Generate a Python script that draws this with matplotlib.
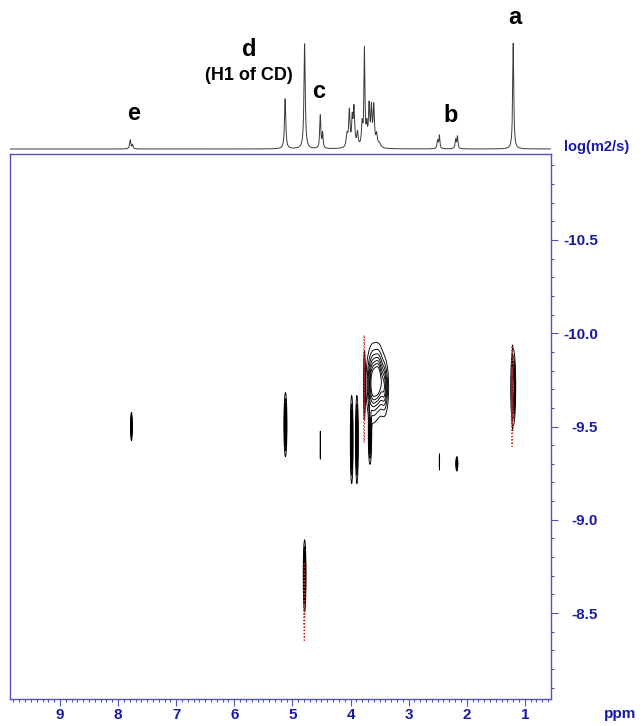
"""
DOSY map of the CD complex with the 1H trace on top.
"""
import matplotlib
matplotlib.use("Agg")
import matplotlib.pyplot as plt
import numpy as np
from matplotlib.ticker import FormatStrFormatter, MultipleLocator

plt.rcParams["font.family"] = ["Liberation Sans", "DejaVu Sans"]
plt.rcParams["font.weight"] = "bold"

BLUE = "#1a1aa8"
FRAME = "#5353bb"

# 1H projection: line positions (ppm), heights (rel.), half widths (ppm)
spec_ppm = [7.79, 7.75, 5.125, 4.79, 4.52, 4.48, 4.06, 4.02, 3.97, 3.94, 3.88,
            3.80, 3.76, 3.72, 3.68, 3.64, 3.60, 3.55, 3.50, 2.50, 2.47, 2.19, 2.16, 1.20]
spec_height = [9, 4, 50, 105, 33, 15, 12, 36, 26, 38, 14,
               22, 96, 18, 40, 36, 40, 12, 4, 8, 13, 9, 12, 106]
spec_hw = [0.012, 0.01, 0.013, 0.013, 0.011, 0.01, 0.016, 0.014, 0.012, 0.014, 0.014,
           0.014, 0.01, 0.012, 0.014, 0.012, 0.014, 0.016, 0.025, 0.012, 0.01, 0.012, 0.01, 0.011]

# positive cross peaks: ppm, log D, half widths, amplitude
pos_ppm = [7.77, 5.12, 4.52, 3.98, 3.89, 3.62, 3.52, 3.42, 3.665, 2.47, 2.17, 1.20, 1.21, 4.79, 3.76]
pos_logd = [-9.50, -9.51, -9.40, -9.43, -9.43, -9.73, -9.75, -9.71, -9.45, -9.31, -9.30, -9.71, -9.70, -8.70, -9.72]
pos_wppm = [0.007, 0.012, 0.003, 0.011, 0.011, 0.055, 0.05, 0.04, 0.014, 0.003, 0.008, 0.02, 0.003, 0.011, 0.007]
pos_wlogd = [0.035, 0.08, 0.085, 0.11, 0.11, 0.1, 0.09, 0.08, 0.075, 0.05, 0.018, 0.095, 0.16, 0.09, 0.09]
pos_amp = [1.0, 1.0, 0.15, 1.0, 1.0, 0.9, 0.9, 0.6, 0.8, 0.15, 1.0, 1.0, 0.15, 1.0, 0.8]

# negative (red dotted) contours
neg_ppm = [3.765, 1.22, 4.795]
neg_logd = [-9.70, -9.66, -8.56]
neg_wppm = [0.004, 0.006, 0.004]
neg_wlogd = [0.14, 0.13, 0.10]

labels = ["a", "b", "c", "d", "(H1 of CD)", "e"]
label_ppm = [1.17, 2.27, 4.55, 5.75, 5.75, 7.73]
label_int = [131, 34, 57, 99, 74, 36]
label_size = [17, 17, 17, 17, 13, 17]


def gauss_field(X, Y, ppm, logd, wppm, wlogd, amp):
    Z = np.zeros_like(X)
    for p, d, wp, wd, a in zip(ppm, logd, wppm, wlogd, amp):
        Z += a * np.exp(-0.5 * ((X - p) / wp) ** 2 - 0.5 * ((Y - d) / wd) ** 2)
    return Z


def main() -> None:
    fig = plt.figure(figsize=(6.43, 7.26), dpi=100)
    ax = fig.add_axes([10 / 643, 27 / 726, 541 / 643, 545 / 726])
    top = fig.add_axes([10 / 643, 1 - 152 / 726, 541 / 643, 142 / 726])

    xlim = (9.86, 0.55)

    # 1H trace
    xs = np.linspace(0.4, 10.0, 8000)
    trace = np.zeros_like(xs)
    for p, h, w in zip(spec_ppm, spec_height, spec_hw):
        trace += h / (1 + ((xs - p) / w) ** 2)
    top.plot(xs, trace, color="#3a3a3a", lw=0.7)
    top.set_xlim(*xlim)
    top.set_ylim(-3, 139)
    top.axis("off")
    for lab, p, y, s in zip(labels, label_ppm, label_int, label_size):
        top.text(p, y, lab, ha="center", va="center", fontsize=s,
                 fontweight="bold", color="black", clip_on=False)

    # DOSY contours
    gx = np.linspace(0.4, 10.0, 4000)
    gy = np.linspace(-11.2, -7.8, 800)
    X, Y = np.meshgrid(gx, gy)
    zpos = gauss_field(X, Y, pos_ppm, pos_logd, pos_wppm, pos_wlogd, pos_amp)
    zneg = gauss_field(X, Y, neg_ppm, neg_logd, neg_wppm, neg_wlogd, [1.0] * len(neg_ppm))
    ax.contour(X, Y, zpos, levels=[0.1, 0.22, 0.34, 0.46, 0.58, 0.7, 0.82],
               colors="black", linewidths=0.65)
    ax.contour(X, Y, zneg, levels=[0.12, 0.5], colors="#c82828",
               linewidths=0.9, linestyles=":")

    ax.set_xlim(*xlim)
    ax.set_ylim(-8.04, -10.96)

    ax.xaxis.set_major_locator(MultipleLocator(1))
    ax.xaxis.set_minor_locator(MultipleLocator(0.1))
    ax.yaxis.set_major_locator(MultipleLocator(0.5))
    ax.yaxis.set_minor_locator(MultipleLocator(0.1))
    ax.yaxis.set_major_formatter(FormatStrFormatter("%.1f"))
    ax.xaxis.set_major_formatter(FormatStrFormatter("%d"))

    ax.tick_params(axis="both", which="both", direction="out", color=FRAME,
                   labelcolor=BLUE, labelsize=11, width=0.8)
    ax.tick_params(axis="both", which="major", length=5)
    ax.tick_params(axis="both", which="minor", length=2.5)
    ax.tick_params(axis="x", which="both", top=False, bottom=True, pad=1.5)
    ax.tick_params(axis="y", which="both", left=False, right=True,
                   labelleft=False, labelright=True, pad=29)
    for lbl in ax.get_yticklabels():
        lbl.set_horizontalalignment("right")
    for sp in ax.spines.values():
        sp.set_color(FRAME)
        sp.set_linewidth(1.0)

    fig.text(597 / 643, 1 - 147 / 726, "log(m2/s)", color=BLUE, fontsize=10.5,
             ha="center", va="center", fontweight="bold")
    fig.text(620 / 643, 1 - 714 / 726, "ppm", color=BLUE, fontsize=11,
             ha="center", va="center", fontweight="bold")

    fig.savefig("out.png", dpi=100, facecolor="white")
    plt.close(fig)


if __name__ == "__main__":
    main()
